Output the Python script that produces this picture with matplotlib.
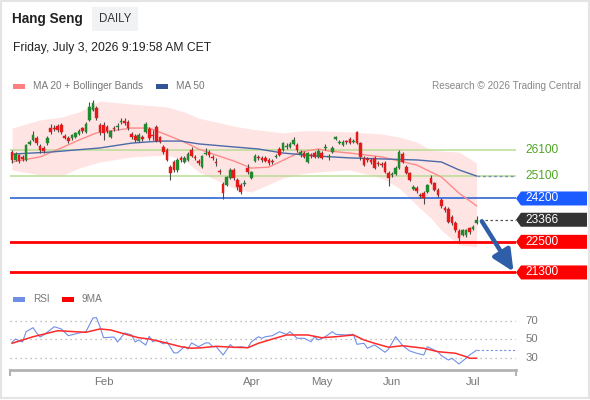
import matplotlib
matplotlib.use("Agg")
import numpy as np
import matplotlib.pyplot as plt
from matplotlib.patches import Rectangle, Polygon
from matplotlib import transforms

plt.rcParams['font.family'] = ['Liberation Sans', 'DejaVu Sans']

# === data ===
opens = [26020, 25710, 25900, 25830, 25710, 26340, 26490, 26570, 26260, 26180,
         26370, 26960, 26960, 27040, 27080, 26650, 26570, 26570, 26610, 26730,
         26960, 26810, 27280, 27670, 27750, 27080, 27080, 27000, 26610, 26960,
         27000, 27200, 27240, 27200, 26730, 26650, 26450, 26610, 26810, 26920,
         26690, 27000, 26610, 26220, 26100, 25430, 25630, 25320, 25790, 25630,
         25710, 26100, 25830, 25670, 25430, 25940, 26020, 25830, 25630, 25280,
         24770, 24730, 25000, 25320, 24920, 24730, 24770, 25390, 25000, 25670,
         25830, 25790, 25790, 25710, 25670, 25830, 26140, 26100, 26220, 26220,
         26340, 26300, 25900, 25980, 25630, 25900, 25980, 25830, 25980, 26180,
         25830, 26020, 26530, 26370, 26300, 26410, 26530, 26410, 26810, 26370,
         25790, 25750, 25710, 25790, 25590, 25550, 25590, 25200, 25120, 25160,
         25390, 25940, 25430, 25200, 24570, 24610, 24340, 24410, 24450, 25000,
         24810, 24530, 24140, 23830, 23790, 23470, 23240, 22920, 22770, 22770,
         23040, 23000, 23240]
closes = [25710, 25940, 25670, 25750, 26300, 26410, 26690, 26370, 26100, 26060,
          26570, 26810, 26920, 26880, 26810, 26570, 26450, 26690, 26770, 26850,
          26850, 27120, 27790, 27940, 27350, 26810, 26770, 26850, 26850, 26920,
          27040, 27240, 27160, 26960, 26610, 26490, 26690, 26530, 27120, 26570,
          26650, 26450, 26410, 26020, 25710, 25200, 25320, 25710, 25710, 25790,
          25940, 25860, 25790, 25590, 25860, 25980, 25900, 25790, 25590, 25240,
          24410, 25040, 25320, 25000, 24650, 24450, 24810, 25240, 25240, 25860,
          25790, 25710, 25670, 25590, 25630, 25860, 25900, 26370, 26260, 26340,
          26490, 26100, 26020, 25830, 25980, 25860, 25830, 26060, 25790, 26220,
          25860, 26180, 26610, 26410, 26410, 26390, 26370, 26450, 26370, 25830,
          25510, 25710, 25630, 25390, 25550, 25510, 25240, 25000, 25160, 25390,
          26020, 25630, 25200, 24920, 24650, 24490, 24300, 24220, 24730, 24810,
          24530, 24340, 23910, 23750, 23280, 23240, 22960, 22650, 22960, 22960,
          22890, 23080, 23366]
highs = [26100, 26020, 25940, 25900, 26340, 26490, 26850, 26650, 26340, 26260,
         26650, 27120, 27080, 27120, 27160, 26730, 26650, 26730, 26810, 26920,
         27000, 27200, 27980, 28060, 27830, 27160, 27200, 27080, 26880, 27040,
         27160, 27350, 27350, 27280, 26810, 26730, 26770, 26690, 27200, 27000,
         26880, 27080, 26650, 26300, 26180, 25510, 25710, 25790, 25860, 25860,
         26020, 26220, 25900, 25750, 25900, 26180, 26100, 25900, 25790, 25360,
         24850, 25080, 25390, 25390, 25000, 24810, 24920, 25550, 25280, 25940,
         25900, 25860, 25860, 25790, 25750, 25940, 26220, 26410, 26370, 26410,
         26610, 26370, 26100, 26060, 26020, 25980, 26060, 26140, 26060, 26340,
         25940, 26260, 26650, 26490, 26490, 26490, 26610, 26530, 26850, 26410,
         25860, 25830, 25790, 25860, 25670, 25630, 25670, 25280, 25240, 25470,
         26100, 26020, 25510, 25240, 24730, 24690, 24410, 24490, 24770, 25120,
         24850, 24610, 24220, 23910, 23870, 23550, 23320, 23000, 23000, 23000,
         23080, 23160, 23510]
lows = [25590, 25670, 25590, 25670, 25670, 26300, 26450, 26300, 25980, 25980,
        26300, 26730, 26850, 26810, 26730, 26530, 26370, 26490, 26570, 26690,
        26770, 26770, 27240, 27630, 27280, 26690, 26490, 26770, 26570, 26850,
        26880, 27120, 27080, 26880, 26530, 26410, 26410, 26450, 26770, 26490,
        26490, 26410, 26370, 25940, 25670, 24920, 25240, 25240, 25630, 25590,
        25670, 25830, 25710, 25510, 25390, 25900, 25830, 25710, 25470, 25160,
        24180, 24690, 24960, 24920, 24530, 24380, 24690, 25160, 24960, 25630,
        25710, 25630, 25630, 25510, 25550, 25790, 25860, 26060, 26140, 26180,
        26300, 26020, 25830, 25790, 25590, 25790, 25790, 25790, 25750, 26100,
        25710, 25980, 26490, 26340, 26260, 26340, 26340, 26370, 26340, 25710,
        25470, 25630, 25550, 25360, 25470, 25430, 25200, 24690, 25040, 25120,
        25360, 25590, 25160, 24890, 24530, 24410, 24220, 23980, 24410, 24770,
        24490, 24260, 23830, 23670, 23240, 23160, 22890, 22490, 22730, 22690,
        22810, 22960, 23200]

# MA 20 (day index, value)
ma20_day = [0, 8, 14, 19, 24, 34, 39, 44, 49, 53, 58, 63, 68, 73, 79, 82, 87,
            90, 96, 105, 115, 122, 127, 132]
ma20_val = [25630, 25830, 26180, 26490, 26770, 26960, 26960, 26690, 26410,
            26140, 25900, 25670, 25390, 25430, 25830, 26020, 26140, 26060,
            25980, 25830, 25510, 25040, 24410, 23910]
# Bollinger bands
band_day = [0, 8, 14, 19, 25, 34, 44, 49, 53, 63, 68, 77, 82, 87, 96, 105, 110,
            115, 119, 122, 127, 132]
band_up = [26960, 27280, 27390, 27590, 28020, 27900, 27790, 27590, 27350,
           27040, 26920, 26770, 26850, 26850, 26810, 26730, 26610, 26410,
           26100, 26060, 26020, 25590]
band_lo = [25320, 25120, 25080, 25390, 25630, 25830, 25900, 25710, 25240,
           24610, 24450, 25000, 25160, 25240, 25320, 25000, 24610, 23940,
           23430, 22960, 22380, 22300]
# MA 50
ma50_day = [0, 11, 25, 34, 42, 48, 53, 63, 70, 77, 87, 96, 105, 115, 122, 127, 132]
ma50_val = [25940, 26020, 26180, 26370, 26450, 26450, 26340, 26220, 26140,
            25980, 25860, 25790, 25750, 25710, 25630, 25320, 25080]

# RSI + 9MA
rsi_day = [0, 1, 3, 4, 6, 7, 8, 9, 12, 14, 16, 19, 21, 23, 24, 25, 26, 29, 30,
           32, 34, 35, 36, 38, 39, 40, 41, 43, 44, 46, 47, 49, 50, 51, 53, 55,
           56, 57, 58, 60, 62, 63, 65, 67, 68, 70, 71, 72, 74, 76, 78, 79, 80,
           81, 83, 85, 86, 87, 89, 91, 92, 95, 97, 98, 100, 101, 103, 106, 107,
           109, 111, 113, 115, 117, 118, 121, 122, 124, 125, 127, 129, 130, 132]
rsi_val = [47, 50.5, 47.3, 58.4, 62.8, 57, 52.7, 54.9, 63.8, 61.4, 54.1, 57,
           58.4, 73.2, 73.6, 63.8, 51.9, 52.7, 47.3, 57, 54.9, 47.3, 49.5, 44,
           53.5, 47.6, 49.5, 45.2, 47.6, 35.5, 35.5, 42.2, 39.7, 46.3, 42.2,
           46.3, 46.3, 42.2, 42.2, 33.2, 44.5, 41.1, 42.2, 41.1, 47.3, 53, 51.3,
           53, 54.1, 58.4, 55.6, 58.4, 54.9, 51.3, 51.3, 47.6, 53, 49.5, 53,
           58.4, 55.6, 54.9, 55.6, 44.8, 45.9, 40.5, 44.1, 36.2, 39.7, 53, 43.3,
           37.6, 35.1, 33.2, 42.2, 36.8, 32.5, 27.8, 29.7, 23.5, 29.7, 33.2, 38.3]
ma9_day = [0, 6, 13, 18, 21, 25, 28, 33, 36, 39, 43, 48, 51, 54, 58, 63, 67, 70,
           74, 78, 81, 84, 88, 92, 97, 100, 103, 107, 111, 117, 121, 126, 129,
           130, 132]
ma9_val = [45.9, 53, 59.5, 58.4, 57.8, 61.4, 60.3, 54.9, 51.9, 50.5, 47, 42.2,
           40.5, 41.1, 42.6, 41.6, 41.1, 45.9, 50.5, 54.9, 54.9, 54.9, 51.9, 53,
           54.9, 49.5, 45.9, 41.6, 43.3, 40.5, 36.8, 35.1, 31.4, 29.7, 29.7]

month_day = [26, 68, 88, 108, 131]
month_lbl = ["Feb", "Apr", "May", "Jun", "Jul"]

res_lvls = [26100, 25100]
sup_lvl = 24200
targets = [22500, 21300]
last_px = closes[-1]
rsi_lvls = [70, 50, 30]

# === figure ===
W, H = 590, 400
fig = plt.figure(figsize=(W / 100, H / 100), dpi=100)

def fx(x):
    return x / W

def fy(y):
    return 1 - y / H

n = len(closes)
idx = np.arange(n)
xlim = (-0.57, 143.2)

# price panel : pixel rows 95..285, cols 10..516
ax = fig.add_axes([fx(10), fy(285), fx(506), 190 / H])
ax.set_xlim(*xlim)
ax.set_ylim(20808, 28256)
ax.axis("off")

ax.fill_between(band_day, band_lo, band_up, color="#ffe4e4", lw=0, zorder=1)
for lv in res_lvls:
    ax.axhline(lv, color="#b9dc95", lw=1.1, zorder=2)
ax.axhline(sup_lvl, color="#3f6fd8", lw=1.3, zorder=2)
for lv in targets:
    ax.axhline(lv, color="#ff0000", lw=2, zorder=2)

ax.plot(ma20_day, ma20_val, color="#ff8a8a", lw=1, zorder=3)
ax.plot(ma50_day, ma50_val, color="#4a6aa8", lw=1, zorder=3)
ax.plot([ma50_day[-1], xlim[1]], [ma50_val[-1]] * 2, color="#7d8fb0",
        lw=1, ls=(0, (2, 2)), zorder=3)

o = np.array(opens)
c = np.array(closes)
up = c >= o
cols = np.where(up, "#1f8a2e", "#e41a1a")
ax.vlines(idx, lows, highs, color="#4a4a4a", lw=0.8, zorder=4)
body = np.where(np.abs(c - o) < 40, 40, c - o)
ax.bar(idx, body, bottom=o, width=0.75, color=cols, edgecolor=cols, lw=0.3, zorder=5)

ax.plot([n, xlim[1]], [last_px, last_px], color="#555555", lw=0.9,
        ls=(0, (2, 2)), zorder=3)

# forecast arrow
ax.annotate("", xy=(n + 9.5, targets[1] + 30), xytext=(n + 0.5, last_px - 60),
            arrowprops=dict(arrowstyle="-|>,head_width=0.4,head_length=0.85",
                            lw=3.2, color="#2f5ea8", mutation_scale=15,
                            shrinkA=0, shrinkB=0),
            zorder=6, annotation_clip=False)

# right tags
bt = transforms.blended_transform_factory(ax.transAxes, ax.transData)
ppx = (28256 - 20808) / 190.0
tip, left, right = 1.0, 1 + 5 / 506, 1 + 71 / 506
txt_x = 1 + 9.5 / 506

def tag(level, face, label):
    h = 7 * ppx
    poly = Polygon([(tip, level), (left, level + h), (right, level + h),
                    (right, level - h), (left, level - h)], closed=True,
                   transform=bt, fc=face, ec="none", clip_on=False, zorder=7)
    ax.add_patch(poly)
    ax.text(txt_x, level, label, transform=bt, color="white", fontsize=8.6,
            va="center", ha="left", zorder=8, clip_on=False)

tag(sup_lvl, "#1a5cff", str(sup_lvl))
tag(last_px, "#333333", str(last_px))
for lv in targets:
    tag(lv, "#ff0000", str(lv))
for lv in res_lvls:
    ax.text(txt_x, lv, str(lv), transform=bt, color="#4fa526", fontsize=8.6,
            va="center", ha="left", clip_on=False)

# RSI panel : pixel rows 305..370
ax2 = fig.add_axes([fx(10), fy(370), fx(506), 65 / H])
ax2.set_xlim(*xlim)
ax2.set_ylim(17.0, 87.3)
for s in ["top", "right", "left"]:
    ax2.spines[s].set_visible(False)
ax2.spines["bottom"].set_color("#b3b3b3")
ax2.spines["bottom"].set_linewidth(2)
ax2.set_yticks([])
ax2.set_xticks(month_day)
ax2.set_xticklabels(month_lbl, color="#777777", fontsize=8.2)
ax2.tick_params(axis="x", length=0, pad=5)
for xe in (0, 1):
    ax2.plot([xe, xe], [0, -0.08], transform=ax2.transAxes, color="#b3b3b3",
             lw=1.5, clip_on=False)
for lv in rsi_lvls:
    ax2.axhline(lv, color="#aaaaaa", lw=0.9, ls=(0, (1, 3)))
    ax2.text(txt_x, lv, str(lv), color="#777777", fontsize=8.2, va="center",
             ha="left", transform=transforms.blended_transform_factory(
                 ax2.transAxes, ax2.transData), clip_on=False)
ax2.plot(rsi_day, rsi_val, color="#7090e6", lw=0.8)
ax2.plot([rsi_day[-1], xlim[1]], [rsi_val[-1]] * 2, color="#7090e6", lw=0.8,
         ls=(0, (2, 2)))
ax2.plot(ma9_day, ma9_val, color="#ff2a2a", lw=1.1)

# header / legends
fig.text(fx(12), fy(19), "Hang Seng", fontsize=9.8, fontweight="bold",
         color="#222222", va="center")
fig.patches.append(Rectangle((fx(92), fy(31)), fx(46), 24 / H,
                             transform=fig.transFigure, fc="#f1f2f4", ec="none"))
fig.text(fx(115), fy(19), "DAILY", fontsize=8.3, color="#333333",
         ha="center", va="center")
fig.text(fx(13), fy(48), "Friday, July 3, 2026 9:19:58 AM CET", fontsize=8.7,
         color="#222222", va="center")

def leg(x, y, color, label):
    fig.patches.append(Rectangle((fx(x), fy(y + 2.5)), fx(12), 5 / H,
                                 transform=fig.transFigure, fc=color, ec="none"))
    fig.text(fx(x + 20), fy(y), label, fontsize=7.2, color="#777777",
             va="center")

leg(13, 86, "#ff8080", "MA 20 + Bollinger Bands")
leg(156, 86, "#2f5597", "MA 50")
leg(13, 299, "#6f8fe4", "RSI")
leg(62, 299, "#ff0000", "9MA")
fig.text(fx(581), fy(86), "Research \u00a9 2026 Trading Central", fontsize=7.2,
         color="#888888", va="center", ha="right")

fig.patches.append(Rectangle((fx(0.5), fy(398)), fx(588), 397.5 / H,
                             transform=fig.transFigure, fc="none",
                             ec="#e4e4e4", lw=1.5))

fig.savefig("out.png", dpi=100)
